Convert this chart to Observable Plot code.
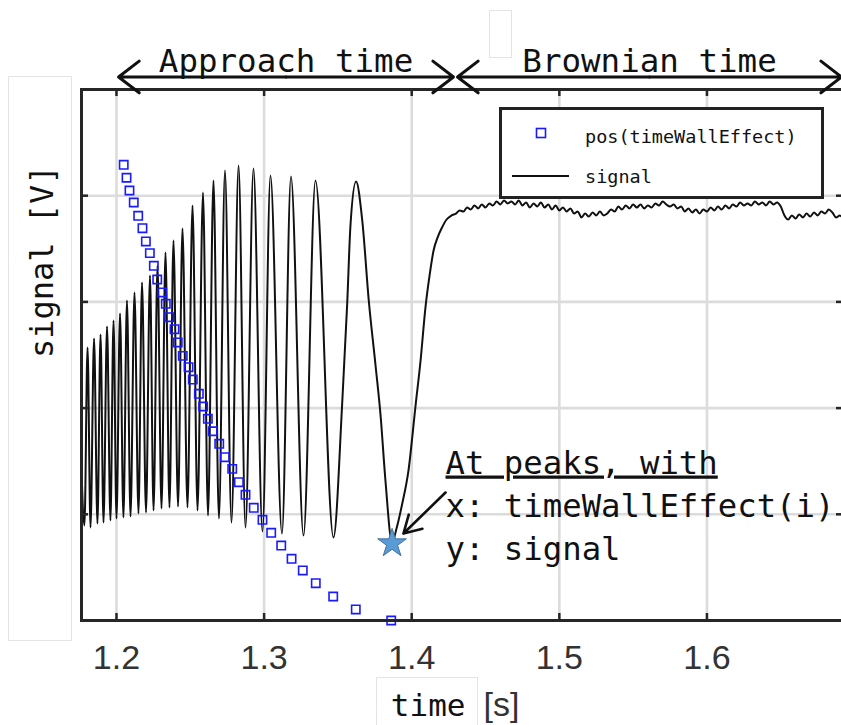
<!DOCTYPE html>
<html><head><meta charset="utf-8">
<script src="https://cdn.jsdelivr.net/npm/d3@7"></script>
<script src="https://cdn.jsdelivr.net/npm/@observablehq/plot@0.6"></script>
<style>
html,body{margin:0;padding:0;overflow:hidden;background:#fff;width:841px;height:725px;}
#wrap{position:relative;width:841px;height:725px;overflow:hidden;}
.box{position:absolute;border:1px solid #e4e4e4;background:#fff;}
#legend{position:absolute;left:499px;top:107px;width:319px;height:86px;border:3px solid #222;background:#fff;}
#plot{position:absolute;left:0;top:0;}
</style></head><body>
<div id="wrap">
  <div class="box" style="left:8px;top:76px;width:62px;height:563px;"></div>
  <div class="box" style="left:489px;top:10px;width:21px;height:46px;"></div>
  <div class="box" style="left:376px;top:677px;width:100px;height:60px;"></div>
  <div id="plot"></div>
  <div id="legend"></div>
</div>
<script>
// ---- data ----
// signal through the approach: start, then alternating troughs/peaks, final dip and rise
const sigT = [
1.1763,1.1783,1.1804,1.1824,1.1848,1.1871,1.1892,1.1912,1.1936,1.1959,
1.1980,1.2000,1.2024,1.2047,1.2071,1.2095,1.2122,1.2149,1.2173,1.2200,
1.2227,1.2251,1.2278,1.2305,1.2332,1.2359,1.2386,1.2417,1.2447,1.2481,
1.2515,1.2549,1.2586,1.2620,1.2657,1.2694,1.2735,1.2779,1.2827,1.2874,
1.2928,1.2989,1.3043,1.3121,1.3182,1.3267,1.3348,1.3470,1.3529,1.3563,
1.3585,1.3623,1.3665,1.3709,1.3755,1.3789,1.3822,1.3867,1.3897,1.3936,
1.3978,1.4026,1.4060,1.4093,1.4121,1.4148,1.4175,1.4202,1.4236,1.4270];
const sigV = [
1.412,0.895,2.571,0.876,2.655,0.913,2.693,0.923,2.768,0.942,
2.825,0.960,2.891,0.970,3.013,0.979,3.089,1.008,3.183,1.017,
3.249,1.036,3.343,1.055,3.465,1.064,3.578,1.073,3.691,1.064,
3.908,1.036,4.030,0.989,4.143,0.960,4.237,0.923,4.284,0.876,
4.256,0.838,4.190,0.819,4.181,0.800,4.143,0.782,2.043,2.985,
3.719,4.134,3.766,3.013,2.401,1.930,1.318,0.734,0.866,1.102,
1.412,2.024,2.448,2.947,3.249,3.484,3.606,3.691,3.776,3.814];
// Brownian plateau samples
const platT = [
1.4300,1.4325,1.4350,1.4375,1.4400,1.4425,1.4450,1.4475,1.4500,1.4525,
1.4550,1.4575,1.4600,1.4625,1.4650,1.4675,1.4700,1.4725,1.4750,1.4775,
1.4800,1.4825,1.4850,1.4875,1.4900,1.4925,1.4950,1.4975,1.5000,1.5025,
1.5050,1.5075,1.5100,1.5125,1.5150,1.5175,1.5200,1.5225,1.5250,1.5275,
1.5300,1.5325,1.5350,1.5375,1.5400,1.5425,1.5450,1.5475,1.5500,1.5525,
1.5550,1.5575,1.5600,1.5625,1.5650,1.5675,1.5700,1.5725,1.5750,1.5775,
1.5800,1.5825,1.5850,1.5875,1.5900,1.5925,1.5950,1.5975,1.6000,1.6025,
1.6050,1.6075,1.6100,1.6125,1.6150,1.6175,1.6200,1.6225,1.6250,1.6275,
1.6300,1.6325,1.6350,1.6375,1.6400,1.6425,1.6450,1.6475,1.6500,1.6525,
1.6550,1.6575,1.6600,1.6625,1.6650,1.6675,1.6700,1.6725,1.6750,1.6775,
1.6800,1.6825,1.6850,1.6875,1.6900,1.6925];
const platV = [
3.832,3.861,3.851,3.889,3.870,3.908,3.880,3.917,3.889,3.927,
3.908,3.946,3.917,3.955,3.927,3.946,3.917,3.955,3.908,3.936,
3.889,3.927,3.898,3.936,3.889,3.917,3.870,3.908,3.861,3.889,
3.851,3.880,3.832,3.851,3.795,3.832,3.804,3.842,3.814,3.851,
3.814,3.832,3.870,3.851,3.898,3.870,3.908,3.880,3.917,3.889,
3.917,3.880,3.908,3.889,3.927,3.908,3.946,3.917,3.898,3.917,
3.880,3.898,3.851,3.880,3.842,3.870,3.832,3.870,3.851,3.889,
3.861,3.898,3.870,3.908,3.880,3.917,3.898,3.936,3.908,3.927,
3.908,3.946,3.917,3.936,3.908,3.946,3.917,3.936,3.898,3.814,
3.776,3.814,3.785,3.823,3.795,3.832,3.804,3.842,3.814,3.851,
3.832,3.870,3.842,3.795,3.814,3.776];
// pos(timeWallEffect): one marker per signal extremum
const wallT = [
1.2049,1.2068,1.2088,1.2117,1.2147,1.2176,1.2199,1.2226,1.2253,1.2276,
1.2310,1.2334,1.2357,1.2393,1.2415,1.2449,1.2488,1.2517,1.2558,1.2587,
1.2619,1.2652,1.2696,1.2734,1.2784,1.2829,1.2874,1.2930,1.2989,1.3048,
1.3116,1.3186,1.3262,1.3350,1.3468,1.3621,1.3861];
const wallPos = [
4.291,4.169,4.049,3.936,3.811,3.694,3.569,3.459,3.340,3.211,
3.089,2.982,2.856,2.743,2.618,2.492,2.385,2.269,2.135,2.015,
1.899,1.782,1.664,1.538,1.428,1.302,1.184,1.061,0.948,0.826,
0.706,0.581,0.471,0.351,0.226,0.104,0.000];
// highlighted point (star)
const starT = [1.3867];
const starV = [0.725];
// phases shown above the plot
const phaseLabels = ["Approach time", "Brownian time"];
const phaseStart = [1.2014, 1.4310];
const phaseEnd = [1.4283, 1.6912];
const phaseLevel = 5.118;
// annotation
const noteLines = ["At peaks, with", "x: timeWallEffect(i)", "y: signal"];
const noteT = [1.4229, 1.4229, 1.4229];
const noteV = [1.384, 0.973, 0.565];
const noteArrow = {t1: 1.4229, v1: 1.205, t2: 1.3944, v2: 0.819};
// axes
const xTicks = [1.2, 1.3, 1.4, 1.5, 1.6];
const yTicks = [0, 1, 2, 3, 4, 5];
const xDomain = [1.1763, 1.6925];
const yDomain = [0, 5];

// ---- build ----
const signal = sigT.map((t, i) => ({t, v: sigV[i]}))
  .concat(platT.map((t, i) => ({t, v: platV[i]})));
const wall = wallT.map((t, i) => ({t, v: wallPos[i]}));
const star = starT.map((t, i) => ({t, v: starV[i]}));
const phases = phaseLabels.map((label, i) => ({label, t0: phaseStart[i], t1: phaseEnd[i]}));
const phaseArrows = phases.flatMap(p => {
  const m = (p.t0 + p.t1) / 2;
  return [{x1: m, x2: p.t0}, {x1: m, x2: p.t1}];
});
const notes = noteLines.map((s, i) => ({s, t: noteT[i], v: noteV[i]}));

const W = 846, H = 725, ML = 81, MT = 89, MR = 3, MB = 105;
const FW = W - ML - MR, FH = H - MT - MB;
const ink = "#262626";
const mono = "DejaVu Sans Mono";

const chart = Plot.plot({
  width: W, height: H,
  marginLeft: ML, marginTop: MT, marginRight: MR, marginBottom: MB,
  style: {background: "transparent", maxWidth: "none", overflow: "visible"},
  x: {domain: xDomain, axis: null},
  y: {domain: yDomain, axis: null},
  marks: [
    Plot.gridX(xTicks, {stroke: "#dcdcdc", strokeOpacity: 1, strokeWidth: 2.6}),
    Plot.gridY(yTicks.slice(1, -1), {stroke: "#dcdcdc", strokeOpacity: 1, strokeWidth: 2.6}),
    Plot.line(signal, {x: "t", y: "v", stroke: "#111", strokeWidth: 2, curve: "monotone-x"}),
    Plot.dot(wall, {x: "t", y: "v", symbol: "square", r: 4.7, fill: "none", stroke: "#1a1aff", strokeWidth: 1.6}),
    Plot.frame({stroke: ink, strokeWidth: 3}),
    Plot.ruleX(xTicks, {insetTop: FH - 7, stroke: ink, strokeWidth: 2.5}),
    Plot.ruleX(xTicks, {insetBottom: FH - 7, stroke: ink, strokeWidth: 2.5}),
    Plot.ruleY(yTicks.slice(1, -1), {insetRight: FW - 7, stroke: ink, strokeWidth: 2.5}),
    Plot.ruleY(yTicks.slice(1, -1), {insetLeft: FW - 7, stroke: ink, strokeWidth: 2.5}),
    // x tick labels
    Plot.text(xTicks, {x: d => d, frameAnchor: "bottom", dy: 48, lineAnchor: "bottom",
      text: d => d3.format(".1f")(d), fontSize: 34, fontFamily: "Liberation Sans", fill: "#333"}),
    // axis titles
    Plot.text(["time"], {frameAnchor: "bottom", dx: 3, dy: 95, lineAnchor: "bottom", textAnchor: "end",
      fontSize: 31, fontFamily: mono, fill: "#111"}),
    Plot.text(["[s]"], {frameAnchor: "bottom", dx: 21, dy: 95, lineAnchor: "bottom", textAnchor: "start",
      fontSize: 34, fontFamily: "Liberation Sans", fill: "#333"}),
    Plot.text(["signal [V]"], {frameAnchor: "left", dx: -29, dy: 3, rotate: -90, lineAnchor: "bottom",
      fontSize: 32, fontFamily: mono, fill: "#111"}),
    // phases
    Plot.arrow(phaseArrows, {x1: "x1", x2: "x2", y1: () => phaseLevel, y2: () => phaseLevel,
      stroke: "#111", strokeWidth: 3, headLength: 13, headAngle: 75}),
    Plot.text(phases, {x: d => (d.t0 + d.t1) / 2, frameAnchor: "top", dy: -18, lineAnchor: "bottom",
      text: "label", fontSize: 32.5, fontFamily: mono, fill: "#111"}),
    // annotation
    Plot.arrow([noteArrow], {x1: "t1", y1: "v1", x2: "t2", y2: "v2", stroke: "#111", strokeWidth: 2.6, headLength: 14, headAngle: 60}),
    Plot.text(notes, {x: "t", y: "v", text: "s", textAnchor: "start", lineAnchor: "bottom",
      fontSize: 32.3, fontFamily: mono, fill: "#111"}),
    Plot.dot(star, {x: "t", y: "v", symbol: "star", r: 9, fill: "#5b9bd5", stroke: "#41719c", strokeWidth: 1})
  ]
});
chart.querySelectorAll("text").forEach(t => {
  if (t.textContent === noteLines[0]) t.style.textDecoration = "underline";
});
document.getElementById("plot").appendChild(chart);

// legend
const leg = d3.select("#legend").append("svg").attr("width", 319).attr("height", 86);
leg.append("rect").attr("x", 34.5).attr("y", 18.5).attr("width", 9).attr("height", 9)
  .attr("fill", "none").attr("stroke", "#1a1aff").attr("stroke-width", 1.6);
leg.append("text").attr("x", 83).attr("y", 33).text("pos(timeWallEffect)")
  .attr("font-family", mono).attr("font-size", 18.5).attr("fill", "#111");
leg.append("line").attr("x1", 10).attr("x2", 67).attr("y1", 66).attr("y2", 66)
  .attr("stroke", "#111").attr("stroke-width", 1.8);
leg.append("text").attr("x", 83).attr("y", 73).text("signal")
  .attr("font-family", mono).attr("font-size", 18.5).attr("fill", "#111");
</script>
</body></html>
